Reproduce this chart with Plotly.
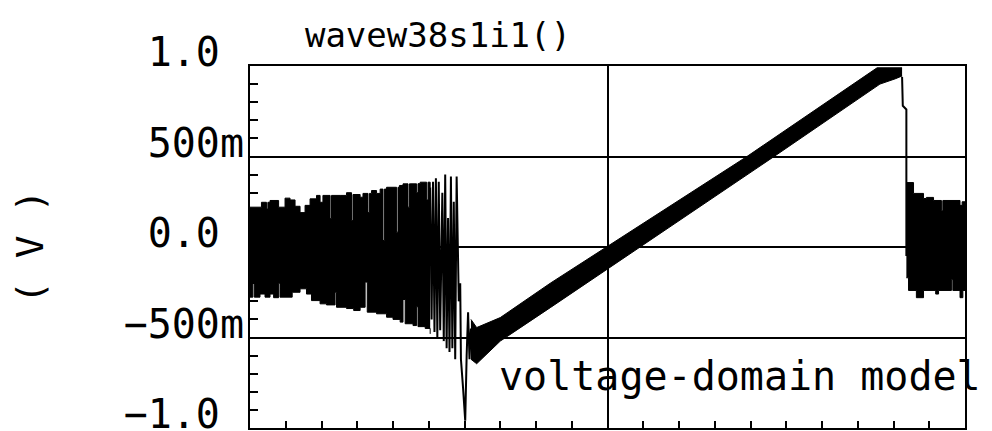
import plotly.graph_objects as go

# ---- waveform readings (time in divisions 0..100, voltage in V) ----
# early ringing block: upper / lower envelope (step-held)
noise_l_top_t = [0.0, 1.6, 2.3, 2.5, 2.8, 4.0, 4.9, 5.6, 6.3, 7.0, 7.7, 8.4, 9.3, 9.8, 10.2, 11.2, 11.4,
                 12.6, 13.5, 14.2, 14.4, 15.4, 15.8, 16.5, 16.7, 17.0, 17.7, 18.2, 18.6, 18.8, 19.1,
                 20.5, 20.7, 20.9, 21.4, 22.1, 22.3, 22.5, 23.3, 23.5, 23.8, 24.7, 24.9, 25.2]
noise_l_top_v = [0.22, 0.247, 0.21, 0.247, 0.257, 0.22, 0.27, 0.26, 0.225, 0.19, 0.23, 0.266, 0.285, 0.247, 0.285, 0.157, 0.285,
                 0.285, 0.30, 0.146, 0.29, 0.275, 0.296, 0.19, 0.296, 0.312, 0.296, 0.32, 0.036, 0.32, 0.33,
                 0.082, 0.33, 0.34, 0.349, 0.22, 0.349, 0.349, 0.30, 0.35, 0.358, 0.26, 0.358, 0.33]
noise_l_bot_t = [0.0, 0.4, 0.6, 1.4, 2.1, 2.8, 3.3, 4.0, 4.2, 5.9, 7.0, 7.9, 8.6, 9.8, 10.7, 11.9, 12.1,
                 13.5, 14.5, 15.4, 16.1, 16.4, 17.7, 19.1, 20.0, 21.0, 21.4, 21.7, 22.8, 23.3, 23.5,
                 24.5, 25.2]
noise_l_bot_v = [-0.277, -0.20, -0.277, -0.26, -0.277, -0.26, -0.28, -0.20, -0.277, -0.25, -0.231, -0.26, -0.296, -0.314, -0.32, -0.25, -0.333,
                 -0.34, -0.351, -0.333, -0.194, -0.36, -0.369, -0.388, -0.40, -0.415, -0.29, -0.424, -0.434, -0.33, -0.44,
                 -0.45, -0.48]

# large swings just before the ramp restarts
burst_t = [25.2, 25.4, 25.6, 25.8, 26.0, 26.2, 26.4, 26.6, 26.9, 27.1, 27.3, 27.5, 27.7, 27.9,
           28.1, 28.3, 28.5, 28.7, 28.9, 29.2, 29.4, 29.5, 29.8, 30.1, 30.3, 30.5, 30.7, 30.9]
burst_v = [0.33, -0.40, 0.36, -0.47, 0.38, -0.50, 0.36, -0.46, 0.30, -0.52, 0.40, -0.56, 0.16, -0.58,
           0.39, -0.56, 0.25, -0.62, 0.39, -0.30, -0.20, -0.62, -0.78, -0.96, -0.60, -0.36, -0.62, -0.45]

# ramp band edges
ramp_top_t = [30.9, 31.7, 35.0, 42.0, 69.5, 87.7, 91.2]
ramp_top_v = [-0.40, -0.445, -0.39, -0.20, 0.50, 0.99, 0.99]
ramp_bot_t = [30.9, 31.7, 35.0, 42.0, 73.3, 88.1, 90.3, 91.2]
ramp_bot_v = [-0.62, -0.645, -0.52, -0.335, 0.50, 0.90, 0.93, 0.945]

# fall back to the ringing level
drop_t = [91.2, 91.3, 91.8, 91.8]
drop_v = [0.94, 0.78, 0.76, -0.05]

# late ringing block
noise_r_top_t = [91.8, 92.8, 94.2, 94.6, 95.6, 96.7, 96.9, 99.3, 99.6, 100.0]
noise_r_top_v = [0.356, 0.296, 0.268, 0.274, 0.257, 0.20, 0.257, 0.23, 0.25, 0.25]
noise_r_bot_t = [91.8, 92.1, 93.2, 94.2, 95.9, 96.3, 98.1, 98.3, 99.3, 99.7, 100.0]
noise_r_bot_v = [-0.17, -0.24, -0.28, -0.24, -0.26, -0.24, -0.18, -0.24, -0.28, -0.24, -0.24]

# axis labelling
y_tick_vals = [-1.0, -0.5, 0.0, 0.5, 1.0]
y_tick_text = ["\u22121.0\u00a0", "\u2212500m", "0.0\u00a0", "500m", "1.0\u00a0"]

MONO = "DejaVu Sans Mono"
INK = "black"

fig = go.Figure()

def band(t_top, v_top, t_bot, v_bot, shape):
    fig.add_trace(go.Scatter(x=t_top, y=v_top, mode="lines", line=dict(color=INK, width=1, shape=shape),
                             hoverinfo="skip", showlegend=False))
    fig.add_trace(go.Scatter(x=t_bot, y=v_bot, mode="lines", line=dict(color=INK, width=1, shape=shape),
                             fill="tonexty", fillcolor=INK, hoverinfo="skip", showlegend=False))

band(noise_l_top_t, noise_l_top_v, noise_l_bot_t, noise_l_bot_v, "hv")
fig.add_trace(go.Scatter(x=burst_t, y=burst_v, mode="lines", line=dict(color=INK, width=2),
                         hoverinfo="skip", showlegend=False))
band(ramp_top_t, ramp_top_v, ramp_bot_t, ramp_bot_v, "linear")
fig.add_trace(go.Scatter(x=drop_t, y=drop_v, mode="lines", line=dict(color=INK, width=2),
                         hoverinfo="skip", showlegend=False))
band(noise_r_top_t, noise_r_top_v, noise_r_bot_t, noise_r_bot_v, "hv")

fig.update_layout(
    width=992, height=431,
    margin=dict(l=250, r=27, t=66, b=3, autoexpand=False),
    paper_bgcolor="white", plot_bgcolor="white",
    font=dict(family=MONO, color=INK),
    title=dict(text="wavew38s1i1()", font=dict(family=MONO, size=34, color=INK),
               x=0.4415, xref="container", xanchor="center",
               y=0.919, yref="container", yanchor="middle"),
    showlegend=False,
)

fig.update_xaxes(
    range=[0, 100], tickmode="linear", tick0=0, dtick=50,
    showticklabels=False, ticks="inside", ticklen=7, tickwidth=2, tickcolor=INK,
    showgrid=True, gridcolor=INK, gridwidth=2, zeroline=False,
    showline=True, linecolor=INK, linewidth=2, mirror=True,
    minor=dict(tickmode="linear", tick0=0, dtick=5, ticks="inside", ticklen=7,
               tickwidth=2, tickcolor=INK, showgrid=False),
)

fig.update_yaxes(
    range=[-1, 1], tickmode="array", tickvals=y_tick_vals, ticktext=y_tick_text,
    tickfont=dict(family=MONO, size=40, color=INK),
    ticks="inside", ticklen=8, tickwidth=2, tickcolor=INK,
    ticklabelstandoff=-4, ticklabelshift=-14, ticklabeloverflow="allow",
    showgrid=True, gridcolor=INK, gridwidth=2, zeroline=False,
    showline=True, linecolor=INK, linewidth=2, mirror=True,
    minor=dict(tickmode="linear", tick0=-1, dtick=0.1, ticks="inside", ticklen=8,
               tickwidth=2, tickcolor=INK, showgrid=False),
)

fig.add_annotation(text="voltage-domain model", x=34.5, y=-0.71, xref="x", yref="y",
                   xanchor="left", yanchor="middle", showarrow=False,
                   font=dict(family=MONO, size=40, color=INK))
fig.add_annotation(text="( V )", x=-0.3077, y=0.5, xref="paper", yref="paper",
                   xanchor="center", yanchor="middle", textangle=-90, showarrow=False,
                   font=dict(family=MONO, size=38, color=INK))

fig.write_html("out.html")
